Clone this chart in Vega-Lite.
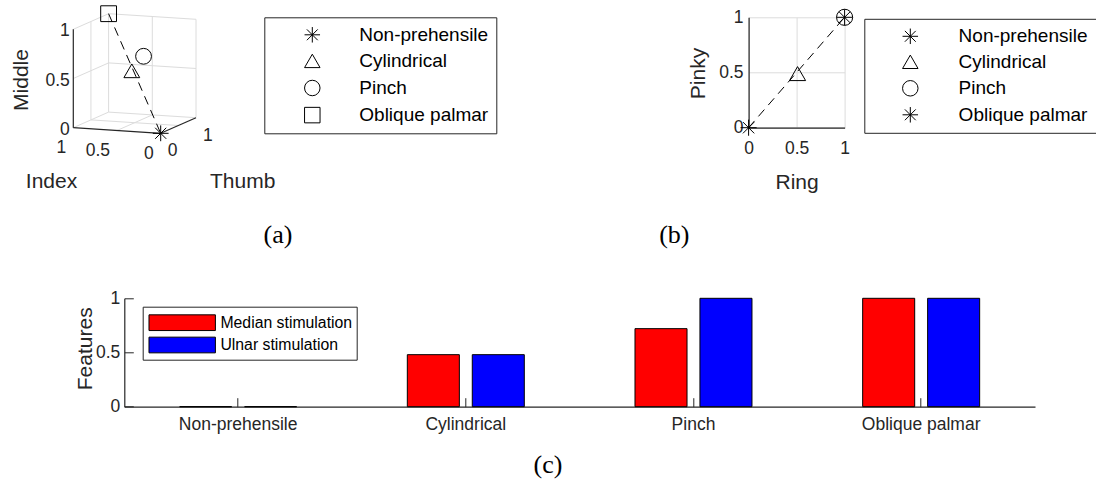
{
  "$schema": "https://vega.github.io/schema/vega-lite/v6.json",
  "autosize": {"type": "none"},
  "padding": {"left": 124.3, "top": 17.3, "right": 971.7, "bottom": 463.7},
  "background": "white",
  "config": {"view": {"stroke": null}, "font": "Liberation Sans"},
  "datasets": {
    "grasps3d": [
      {"grasp": "Non-prehensile", "thumb": 0, "index": 0, "middle": 0},
      {"grasp": "Cylindrical", "thumb": 0.42, "index": 0.5, "middle": 0.54},
      {"grasp": "Pinch", "thumb": 1, "index": 0.6, "middle": 0.59},
      {"grasp": "Oblique palmar", "thumb": 1, "index": 1, "middle": 1}
    ],
    "diag3d": [
      {"thumb": 0, "index": 0, "middle": 0},
      {"thumb": 1, "index": 1, "middle": 1}
    ],
    "grid3d": [
      {"kind": "grid", "t1": 0, "i1": 0.5, "m1": 0, "t2": 1, "i2": 0.5, "m2": 0},
      {"kind": "grid", "t1": 0, "i1": 1, "m1": 0, "t2": 1, "i2": 1, "m2": 0},
      {"kind": "grid", "t1": 0.5, "i1": 0, "m1": 0, "t2": 0.5, "i2": 1, "m2": 0},
      {"kind": "grid", "t1": 1, "i1": 0, "m1": 0, "t2": 1, "i2": 1, "m2": 0},
      {"kind": "grid", "t1": 1, "i1": 0, "m1": 0, "t2": 1, "i2": 0, "m2": 1},
      {"kind": "grid", "t1": 1, "i1": 0.5, "m1": 0, "t2": 1, "i2": 0.5, "m2": 1},
      {"kind": "grid", "t1": 1, "i1": 1, "m1": 0, "t2": 1, "i2": 1, "m2": 1},
      {"kind": "grid", "t1": 1, "i1": 0, "m1": 0.5, "t2": 1, "i2": 1, "m2": 0.5},
      {"kind": "grid", "t1": 1, "i1": 0, "m1": 1, "t2": 1, "i2": 1, "m2": 1},
      {"kind": "grid", "t1": 0.5, "i1": 1, "m1": 0, "t2": 0.5, "i2": 1, "m2": 1},
      {"kind": "grid", "t1": 0, "i1": 1, "m1": 0.5, "t2": 1, "i2": 1, "m2": 0.5},
      {"kind": "grid", "t1": 0, "i1": 1, "m1": 1, "t2": 1, "i2": 1, "m2": 1},
      {"kind": "axis", "t1": 0, "i1": 1, "m1": 0, "t2": 0, "i2": 1, "m2": 1},
      {"kind": "axis", "t1": 0, "i1": 0, "m1": 0, "t2": 0, "i2": 1, "m2": 0},
      {"kind": "axis", "t1": 0, "i1": 0, "m1": 0, "t2": 1, "i2": 0, "m2": 0}
    ],
    "ticks3d": [
      {"axis": "middle", "label": "0", "thumb": 0, "index": 1, "middle": 0},
      {"axis": "middle", "label": "0.5", "thumb": 0, "index": 1, "middle": 0.5},
      {"axis": "middle", "label": "1", "thumb": 0, "index": 1, "middle": 1},
      {"axis": "index", "label": "0", "thumb": 0, "index": 0, "middle": 0},
      {"axis": "index", "label": "0.5", "thumb": 0, "index": 0.5, "middle": 0},
      {"axis": "index", "label": "1", "thumb": 0, "index": 1, "middle": 0},
      {"axis": "thumb", "label": "0", "thumb": 0, "index": 0, "middle": 0},
      {"axis": "thumb", "label": "1", "thumb": 1, "index": 0, "middle": 0}
    ],
    "titles3d": [
      {"name": "Middle", "thumb": 0, "index": 1, "middle": 0.5},
      {"name": "Index", "thumb": 0, "index": 0.5, "middle": 0},
      {"name": "Thumb", "thumb": 0.5, "index": 0, "middle": 0}
    ],
    "grasps2d": [
      {"grasp": "Non-prehensile", "ring": 0, "pinky": 0},
      {"grasp": "Cylindrical", "ring": 0.51, "pinky": 0.49},
      {"grasp": "Pinch", "ring": 1, "pinky": 1},
      {"grasp": "Oblique palmar", "ring": 1, "pinky": 1}
    ],
    "diag2d": [
      {"ring": 0, "pinky": 0},
      {"ring": 1, "pinky": 1}
    ],
    "features": [
      {"grasp": "Non-prehensile", "stimulation": "Median stimulation", "value": 0},
      {"grasp": "Non-prehensile", "stimulation": "Ulnar stimulation", "value": 0},
      {"grasp": "Cylindrical", "stimulation": "Median stimulation", "value": 0.48},
      {"grasp": "Cylindrical", "stimulation": "Ulnar stimulation", "value": 0.48},
      {"grasp": "Pinch", "stimulation": "Median stimulation", "value": 0.72},
      {"grasp": "Pinch", "stimulation": "Ulnar stimulation", "value": 1},
      {"grasp": "Oblique palmar", "stimulation": "Median stimulation", "value": 1},
      {"grasp": "Oblique palmar", "stimulation": "Ulnar stimulation", "value": 1}
    ]
  },
  "bounds": "flush",
  "spacing": 281,
  "resolve": {
    "scale": {"shape": "independent", "color": "independent"},
    "legend": {"shape": "independent", "color": "independent"}
  },
  "vconcat": [
    {
      "bounds": "flush",
      "spacing": 533.3,
      "resolve": {
        "scale": {"shape": "independent", "color": "independent"},
        "legend": {"shape": "independent", "color": "independent"}
      },
      "hconcat": [
        {
          "width": 90.7,
          "height": 127.7,
          "title": {"text": "(a)", "orient": "bottom", "anchor": "middle", "frame": "group", "dx": 108.35, "offset": 30, "font": "Liberation Serif", "fontSize": 26, "fontWeight": "normal", "color": "black", "baseline": "top"},
          "encoding": {
            "x": {"field": "px", "type": "quantitative", "scale": {"domain": [-0.41648, 0.62128], "nice": false, "zero": false}, "axis": null},
            "y": {"field": "py", "type": "quantitative", "scale": {"domain": [-0.13387, 1.32723], "nice": false, "zero": false}, "axis": null}
          },
          "layer": [
            {
              "data": {"name": "grid3d"},
              "transform": [
                {"filter": "datum.kind == 'grid'"},
                {"calculate": "0.40389*datum.t1 - datum.i1", "as": "px"},
                {"calculate": "0.06407*datum.i1 + 0.17849*datum.t1 + 1.12586*datum.m1", "as": "py"},
                {"calculate": "0.40389*datum.t2 - datum.i2", "as": "px2"},
                {"calculate": "0.06407*datum.i2 + 0.17849*datum.t2 + 1.12586*datum.m2", "as": "py2"}
              ],
              "mark": {"type": "rule", "color": "#dcdcdc", "strokeWidth": 1},
              "encoding": {"x2": {"field": "px2"}, "y2": {"field": "py2"}}
            },
            {
              "data": {"name": "grid3d"},
              "transform": [
                {"filter": "datum.kind == 'axis'"},
                {"calculate": "0.40389*datum.t1 - datum.i1", "as": "px"},
                {"calculate": "0.06407*datum.i1 + 0.17849*datum.t1 + 1.12586*datum.m1", "as": "py"},
                {"calculate": "0.40389*datum.t2 - datum.i2", "as": "px2"},
                {"calculate": "0.06407*datum.i2 + 0.17849*datum.t2 + 1.12586*datum.m2", "as": "py2"}
              ],
              "mark": {"type": "rule", "color": "#262626", "strokeWidth": 1.2},
              "encoding": {"x2": {"field": "px2"}, "y2": {"field": "py2"}}
            },
            {
              "data": {"name": "diag3d"},
              "transform": [
                {"calculate": "0.40389*datum.thumb - datum.index", "as": "px"},
                {"calculate": "0.06407*datum.index + 0.17849*datum.thumb + 1.12586*datum.middle", "as": "py"}
              ],
              "mark": {"type": "line", "color": "black", "strokeWidth": 1, "strokeDash": [9, 6]},
              "encoding": {}
            },
            {
              "data": {"name": "grasps3d"},
              "transform": [
                {"calculate": "0.40389*datum.thumb - datum.index", "as": "px"},
                {"calculate": "0.06407*datum.index + 0.17849*datum.thumb + 1.12586*datum.middle", "as": "py"}
              ],
              "mark": {"type": "point", "filled": false, "color": "black", "strokeWidth": 1, "size": 250, "opacity": 1},
              "encoding": {
                "shape": {
                  "field": "grasp", "type": "nominal",
                  "scale": {
                    "domain": ["Non-prehensile", "Cylindrical", "Pinch", "Oblique palmar"],
                    "range": ["M0,-1L0,1M-1,0L1,0M-0.7,-0.7L0.7,0.7M-0.7,0.7L0.7,-0.7", "triangle-up", "circle", "square"]
                  },
                  "legend": {
                    "title": null, "orient": "none", "legendX": 140, "legendY": 0,
                    "padding": 8, "symbolOffset": 30.5, "labelOffset": 37.5, "rowPadding": 6.1,
                    "symbolSize": 240, "symbolStrokeColor": "black", "symbolStrokeWidth": 1, "symbolFillColor": "transparent",
                    "labelFontSize": 19, "labelColor": "black", "labelFont": "Liberation Sans", "labelLimit": 400,
                    "strokeColor": "#262626", "fillColor": "white"
                  }
                }
              }
            },
            {
              "data": {"name": "ticks3d"},
              "transform": [
                {"filter": "datum.axis == 'middle'"},
                {"calculate": "0.40389*datum.thumb - datum.index", "as": "px"},
                {"calculate": "0.06407*datum.index + 0.17849*datum.thumb + 1.12586*datum.middle", "as": "py"}
              ],
              "mark": {"type": "text", "align": "right", "baseline": "middle", "dx": -3.5, "dy": 2, "fontSize": 17.5, "color": "#262626"},
              "encoding": {"text": {"field": "label"}}
            },
            {
              "data": {"name": "ticks3d"},
              "transform": [
                {"filter": "datum.axis == 'index'"},
                {"calculate": "0.40389*datum.thumb - datum.index", "as": "px"},
                {"calculate": "0.06407*datum.index + 0.17849*datum.thumb + 1.12586*datum.middle", "as": "py"}
              ],
              "mark": {"type": "text", "align": "right", "baseline": "middle", "dx": -7, "dy": 20.5, "fontSize": 17.5, "color": "#262626"},
              "encoding": {"text": {"field": "label"}}
            },
            {
              "data": {"name": "ticks3d"},
              "transform": [
                {"filter": "datum.axis == 'thumb'"},
                {"calculate": "0.40389*datum.thumb - datum.index", "as": "px"},
                {"calculate": "0.06407*datum.index + 0.17849*datum.thumb + 1.12586*datum.middle", "as": "py"}
              ],
              "mark": {"type": "text", "align": "left", "baseline": "middle", "dx": 7, "dy": 18, "fontSize": 17.5, "color": "#262626"},
              "encoding": {"text": {"field": "label"}}
            },
            {
              "data": {"name": "titles3d"},
              "transform": [
                {"filter": "datum.name == 'Middle'"},
                {"calculate": "0.40389*datum.thumb - datum.index", "as": "px"},
                {"calculate": "0.06407*datum.index + 0.17849*datum.thumb + 1.12586*datum.middle", "as": "py"}
              ],
              "mark": {"type": "text", "angle": 270, "align": "center", "baseline": "alphabetic", "dx": -1.5, "dy": -45.3, "fontSize": 21, "color": "#262626"},
              "encoding": {"text": {"field": "name"}}
            },
            {
              "data": {"name": "titles3d"},
              "transform": [
                {"filter": "datum.name == 'Index'"},
                {"calculate": "0.40389*datum.thumb - datum.index", "as": "px"},
                {"calculate": "0.06407*datum.index + 0.17849*datum.thumb + 1.12586*datum.middle", "as": "py"}
              ],
              "mark": {"type": "text", "align": "center", "baseline": "alphabetic", "dx": -65.5, "dy": 57.8, "fontSize": 21, "color": "#262626"},
              "encoding": {"text": {"field": "name"}}
            },
            {
              "data": {"name": "titles3d"},
              "transform": [
                {"filter": "datum.name == 'Thumb'"},
                {"calculate": "0.40389*datum.thumb - datum.index", "as": "px"},
                {"calculate": "0.06407*datum.index + 0.17849*datum.thumb + 1.12586*datum.middle", "as": "py"}
              ],
              "mark": {"type": "text", "align": "left", "baseline": "alphabetic", "dx": 31.6, "dy": 62.8, "fontSize": 21, "color": "#262626"},
              "encoding": {"text": {"field": "name"}}
            }
          ]
        },
        {
          "width": 96,
          "height": 110.4,
          "title": {"text": "(b)", "orient": "bottom", "anchor": "middle", "frame": "group", "dx": -122.3, "offset": 30, "font": "Liberation Serif", "fontSize": 26, "fontWeight": "normal", "color": "black", "baseline": "top"},
          "encoding": {
            "x": {
              "field": "ring", "type": "quantitative",
              "scale": {"domain": [0, 1], "nice": false, "zero": false},
              "axis": {
                "title": "Ring", "values": [0, 0.5, 1], "format": "~g", "grid": true, "gridColor": "#dcdcdc", "gridWidth": 1,
                "domainColor": "#262626", "domainWidth": 1.2, "ticks": false, "labelPadding": 11.7,
                "labelFontSize": 17.5, "labelColor": "#262626", "labelFlush": false, "labelOverlap": false,
                "titleFontSize": 21, "titleFontWeight": "normal", "titleColor": "#262626",
                "titleY": 60.3, "titleBaseline": "alphabetic"
              }
            },
            "y": {
              "field": "pinky", "type": "quantitative",
              "scale": {"domain": [0, 1], "nice": false, "zero": false},
              "axis": {
                "title": "Pinky", "values": [0, 0.5, 1], "format": "~g", "grid": true, "gridColor": "#dcdcdc", "gridWidth": 1,
                "domainColor": "#262626", "domainWidth": 1.2, "ticks": false, "labelPadding": 5.5,
                "labelFontSize": 17.5, "labelColor": "#262626", "labelFlush": false, "labelOverlap": false,
                "titleFontSize": 21, "titleFontWeight": "normal", "titleColor": "#262626",
                "titleX": -44.3, "titleY": 55.7, "titleAngle": 270, "titleBaseline": "alphabetic"
              }
            }
          },
          "layer": [
            {
              "data": {"name": "diag2d"},
              "mark": {"type": "line", "color": "black", "strokeWidth": 1, "strokeDash": [9, 6]},
              "encoding": {}
            },
            {
              "data": {"name": "grasps2d"},
              "mark": {"type": "point", "filled": false, "color": "black", "strokeWidth": 1, "size": 260, "opacity": 1},
              "encoding": {
                "shape": {
                  "field": "grasp", "type": "nominal",
                  "scale": {
                    "domain": ["Non-prehensile", "Cylindrical", "Pinch", "Oblique palmar"],
                    "range": ["M0,-1L0,1M-1,0L1,0M-0.7,-0.7L0.7,0.7M-0.7,0.7L0.7,-0.7", "triangle-up", "circle", "M0,-1L0,1M-1,0L1,0M-0.7,-0.7L0.7,0.7M-0.7,0.7L0.7,-0.7"]
                  },
                  "legend": {
                    "title": null, "orient": "none", "legendX": 115.7, "legendY": 1.5,
                    "padding": 8, "symbolOffset": 28.5, "labelOffset": 38.8, "rowPadding": 5.5,
                    "symbolSize": 240, "symbolStrokeColor": "black", "symbolStrokeWidth": 1, "symbolFillColor": "transparent",
                    "labelFontSize": 19, "labelColor": "black", "labelFont": "Liberation Sans", "labelLimit": 400,
                    "strokeColor": "#262626", "fillColor": "white"
                  }
                }
              }
            }
          ]
        }
      ]
    },
    {
      "width": 910.7,
      "height": 108.4,
      "title": {"text": "(c)", "orient": "bottom", "anchor": "middle", "frame": "group", "dx": -31.65, "offset": 19, "font": "Liberation Serif", "fontSize": 26, "fontWeight": "normal", "color": "black", "baseline": "top"},
      "data": {"name": "features"},
      "mark": {"type": "bar", "stroke": "black", "strokeWidth": 1},
      "encoding": {
        "x": {
          "field": "grasp", "type": "nominal",
          "sort": ["Non-prehensile", "Cylindrical", "Pinch", "Oblique palmar"],
          "scale": {"paddingInner": 0, "paddingOuter": -0.0135},
          "axis": {
            "title": null, "labelAngle": 0, "tickSize": -9, "tickColor": "#262626", "tickWidth": 1,
            "domainColor": "#262626", "domainWidth": 1.2, "labelPadding": 17.5,
            "labelFontSize": 17.5, "labelColor": "#262626", "grid": false
          }
        },
        "xOffset": {
          "field": "stimulation", "type": "nominal",
          "sort": ["Median stimulation", "Ulnar stimulation"],
          "scale": {"paddingInner": 0.199, "paddingOuter": 0.852}
        },
        "y": {
          "field": "value", "type": "quantitative",
          "scale": {"domain": [0, 1], "nice": false},
          "axis": {
            "title": "Features", "values": [0, 0.5, 1], "format": "~g", "tickSize": -9, "tickColor": "#262626", "tickWidth": 1,
            "domainColor": "#262626", "domainWidth": 1.2, "labelPadding": 13.5,
            "labelFontSize": 17.5, "labelColor": "#262626", "labelFlush": false, "grid": false,
            "titleFontSize": 21, "titleFontWeight": "normal", "titleColor": "#262626",
            "titleX": -32.8, "titleY": 50, "titleAngle": 270, "titleBaseline": "alphabetic"
          }
        },
        "color": {
          "field": "stimulation", "type": "nominal",
          "scale": {"domain": ["Median stimulation", "Ulnar stimulation"], "range": ["#ff0000", "#0000ff"]},
          "legend": {
            "title": null, "orient": "none", "legendX": 18.4, "legendY": 8.4,
            "symbolType": "M-3,-0.71L3,-0.71L3,0.71L-3,0.71Z", "symbolSize": 490,
            "symbolStrokeColor": "black", "symbolStrokeWidth": 1,
            "symbolOffset": 23.5, "labelOffset": 26.2, "padding": 4, "rowPadding": 0.3,
            "labelFontSize": 15.8, "labelColor": "black", "labelLimit": 400,
            "strokeColor": "#262626", "fillColor": "white"
          }
        }
      }
    }
  ]
}
